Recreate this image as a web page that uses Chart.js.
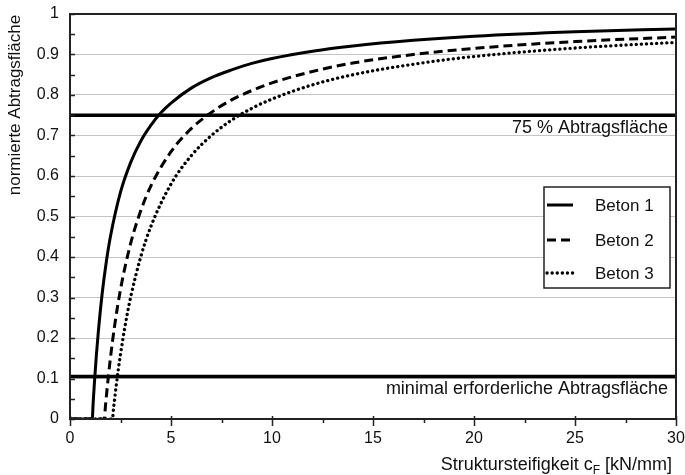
<!DOCTYPE html>
<html>
<head>
<meta charset="utf-8">
<script src="https://cdn.jsdelivr.net/npm/chart.js@4/dist/chart.umd.min.js"></script>
<style>
  html, body { margin: 0; padding: 0; background: #fff; }
  #wrap { width: 685px; height: 475px; position: relative; }
</style>
</head>
<body>
<div id="wrap"><canvas id="steifigkeitChart"></canvas></div>
<script>
const beton1X = [0, 1.1, 1.15, 1.2, 1.3, 1.4, 1.6, 1.8, 2, 2.5, 3, 3.5, 4, 4.5, 5, 6, 7, 8, 9, 10, 12, 14, 17, 20, 25, 30];
const beton1Y = [0, 0, 0.043, 0.083, 0.154, 0.214, 0.313, 0.389, 0.45, 0.56, 0.633, 0.686, 0.725, 0.756, 0.78, 0.817, 0.843, 0.862, 0.878, 0.89, 0.908, 0.921, 0.935, 0.945, 0.956, 0.963];

const beton2X = [0, 1.7, 1.75, 1.8, 1.9, 2, 2.2, 2.5, 3, 3.5, 4, 5, 6, 7, 8, 9, 10, 12, 14, 17, 20, 25, 30];
const beton2Y = [0, 0, 0.029, 0.056, 0.105, 0.15, 0.227, 0.32, 0.433, 0.514, 0.575, 0.66, 0.717, 0.757, 0.788, 0.811, 0.83, 0.858, 0.879, 0.9, 0.915, 0.932, 0.943];

const beton3X = [0, 2.1, 2.15, 2.2, 2.3, 2.4, 2.6, 2.8, 3, 3.5, 4, 5, 6, 7, 8, 9, 10, 12, 14, 17, 20, 25, 30];
const beton3Y = [0, 0, 0.023, 0.045, 0.087, 0.125, 0.192, 0.25, 0.3, 0.4, 0.475, 0.58, 0.65, 0.7, 0.738, 0.767, 0.79, 0.825, 0.85, 0.876, 0.895, 0.916, 0.93];

const seriesNames = ["Beton 1", "Beton 2", "Beton 3"];

// Grenzlinien
const limitValues = [0.75, 0.105];
const limitLabels = ["75 % Abtragsfläche", "minimal erforderliche Abtragsfläche"];

const xTicks = [0, 5, 10, 15, 20, 25, 30];
const yTicks = [0, 0.1, 0.2, 0.3, 0.4, 0.5, 0.6, 0.7, 0.8, 0.9, 1];

const FONT = "'Liberation Sans', Arial, sans-serif";

function toPoints(xs, ys) {
  return xs.map((x, i) => ({ x: x, y: ys[i] }));
}

const lineStyles = [
  { dash: [], cap: "butt", width: 3 },
  { dash: [9, 5], cap: "butt", width: 3 },
  { dash: [0.1, 5], cap: "round", width: 3.3 },
];

const curveSets = [
  toPoints(beton1X, beton1Y),
  toPoints(beton2X, beton2Y),
  toPoints(beton3X, beton3Y),
].map((pts, i) => ({
  label: seriesNames[i],
  data: pts,
  borderColor: "#000",
  borderWidth: lineStyles[i].width,
  borderDash: lineStyles[i].dash,
  borderCapStyle: lineStyles[i].cap,
  pointRadius: 0,
  cubicInterpolationMode: "monotone",
  fill: false,
}));

const limitSets = limitValues.map((v) => ({
  label: "",
  data: [{ x: xTicks[0], y: v }, { x: xTicks[xTicks.length - 1], y: v }],
  borderColor: "#000",
  borderWidth: 3.5,
  pointRadius: 0,
  fill: false,
}));

// Rahmen, Teilstriche, Beschriftungen und Legende
const decorPlugin = {
  id: "decor",
  afterDraw(chart) {
    const { ctx, chartArea: a, scales } = chart;
    const xs = scales.x, ys = scales.y;
    ctx.save();

    // Teilstriche
    ctx.strokeStyle = "#222";
    ctx.lineWidth = 1.5;
    ctx.beginPath();
    for (let k = 0; k <= 20; k++) {
      const y = Math.round(ys.getPixelForValue(k * 0.05)) + 0.5;
      ctx.moveTo(a.left, y);
      ctx.lineTo(a.left + 5, y);
    }
    for (let k = 0; k <= 12; k++) {
      const x = Math.round(xs.getPixelForValue(k * 2.5)) + 0.5;
      const major = k % 2 === 0;
      ctx.moveTo(x, major ? a.bottom - 3 : a.bottom);
      ctx.lineTo(x, a.bottom + (major ? 7 : 4));
    }
    ctx.stroke();

    // Rahmen
    ctx.lineWidth = 2;
    ctx.strokeStyle = "#222";
    ctx.strokeRect(a.left, a.top, a.right - a.left, a.bottom - a.top);

    // Texte an den Grenzlinien
    ctx.fillStyle = "#111";
    ctx.font = "18px " + FONT;
    ctx.textAlign = "right";
    ctx.textBaseline = "middle";
    limitValues.forEach((v, i) => {
      ctx.fillText(limitLabels[i], a.right - 8, ys.getPixelForValue(v) + 13);
    });

    // Achsentitel y
    ctx.save();
    ctx.translate(15, 105);
    ctx.rotate(-Math.PI / 2);
    ctx.textAlign = "center";
    ctx.font = "17px " + FONT;
    ctx.fillText("normierte Abtragsfläche", 0, 0);
    ctx.restore();

    // Achsentitel x mit Index
    ctx.textAlign = "left";
    const part1 = "Struktursteifigkeit c";
    const sub = "F";
    const part2 = " [kN/mm]";
    ctx.font = "18px " + FONT;
    const w1 = ctx.measureText(part1).width;
    const w3 = ctx.measureText(part2).width;
    ctx.font = "12px " + FONT;
    const w2 = ctx.measureText(sub).width;
    const tx = 672 - (w1 + w2 + w3);
    const ty = 465;
    ctx.font = "18px " + FONT;
    ctx.fillText(part1, tx, ty);
    ctx.font = "12px " + FONT;
    ctx.fillText(sub, tx + w1, ty + 6);
    ctx.font = "18px " + FONT;
    ctx.fillText(part2, tx + w1 + w2, ty);

    // Legende
    const lx = 544, ly = 187, lw = 126, lh = 101;
    ctx.fillStyle = "#fff";
    ctx.fillRect(lx, ly, lw, lh);
    ctx.lineWidth = 1.5;
    ctx.strokeStyle = "#222";
    ctx.strokeRect(lx, ly, lw, lh);
    const rows = [205, 240, 273];
    seriesNames.forEach((name, i) => {
      const y = rows[i];
      ctx.beginPath();
      ctx.setLineDash(lineStyles[i].dash);
      ctx.lineCap = lineStyles[i].cap;
      ctx.lineWidth = lineStyles[i].width;
      ctx.strokeStyle = "#000";
      ctx.moveTo(lx + 3, y);
      ctx.lineTo(lx + 29, y);
      ctx.stroke();
      ctx.setLineDash([]);
      ctx.lineCap = "butt";
      ctx.fillStyle = "#111";
      ctx.font = "17px " + FONT;
      ctx.textAlign = "left";
      ctx.fillText(name, lx + 51, y + 1);
    });

    ctx.restore();
  },
};

const ctx = document.getElementById("steifigkeitChart");

new Chart(ctx, {
  type: "line",
  data: { datasets: [...curveSets, ...limitSets] },
  options: {
    responsive: true,
    maintainAspectRatio: false,
    animation: false,
    devicePixelRatio: 1,
    layout: { padding: { top: 14, right: 9, left: 0, bottom: 0 } },
    plugins: {
      legend: { display: false },
      tooltip: { enabled: false },
    },
    scales: {
      x: {
        type: "linear",
        min: 0,
        max: 30,
        afterBuildTicks: (s) => { s.ticks = xTicks.map((v) => ({ value: v })); },
        afterFit: (s) => {
          s.height = 56;
          s.paddingLeft = 0;
          s.paddingRight = 0;
        },
        grid: { display: false, drawTicks: false },
        border: { display: false },
        ticks: {
          color: "#111",
          padding: 10,
          maxRotation: 0,
          font: { family: FONT, size: 16 },
        },
      },
      y: {
        type: "linear",
        min: 0,
        max: 1,
        afterBuildTicks: (s) => { s.ticks = yTicks.map((v) => ({ value: v })); },
        afterFit: (s) => {
          s.width = 70;
          s.paddingTop = 0;
          s.paddingBottom = 0;
        },
        grid: {
          color: (c) => (c.tick && (c.tick.value === 0 || c.tick.value === 1) ? "rgba(0,0,0,0)" : "#c4c4c4"),
          lineWidth: 1,
          drawTicks: false,
        },
        border: { display: false },
        ticks: {
          color: "#111",
          padding: 11,
          font: { family: FONT, size: 16 },
          callback: (v) => String(Math.round(v * 10) / 10),
        },
      },
    },
  },
  plugins: [decorPlugin],
});
</script>
</body>
</html>
